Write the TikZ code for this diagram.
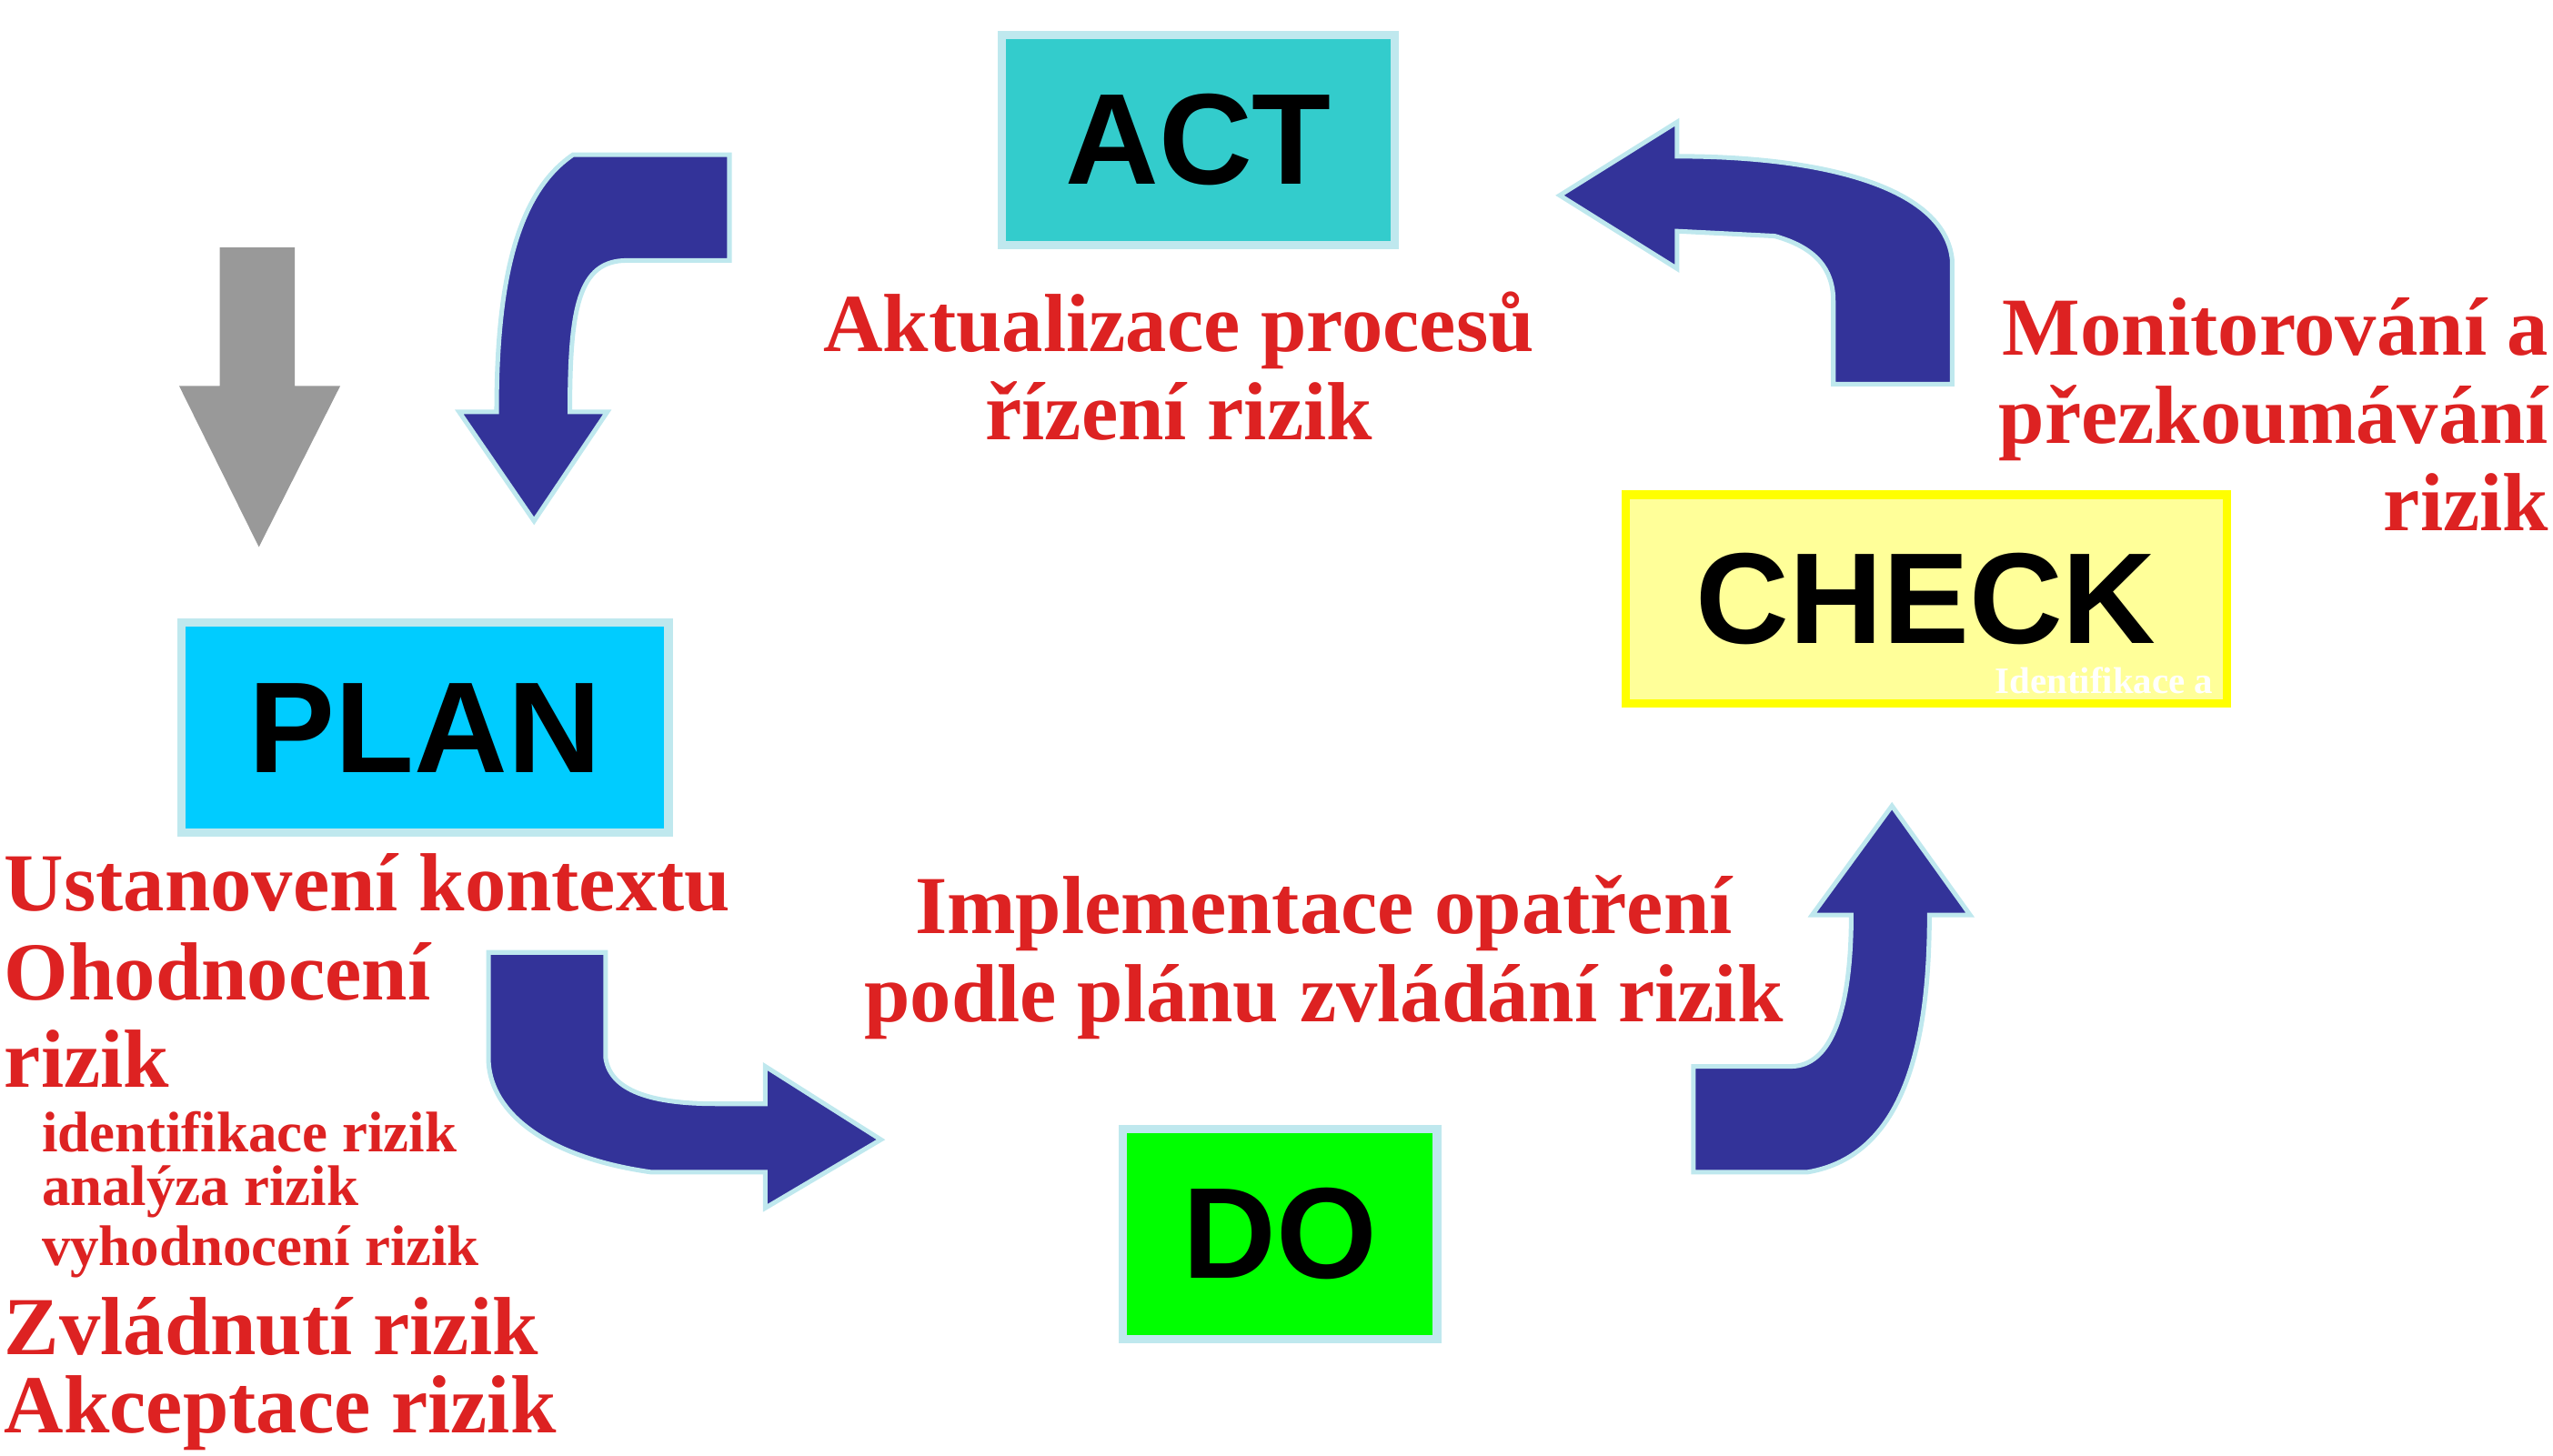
\documentclass[tikz,border=0pt]{standalone}
\usepackage{fontspec}
\setmainfont{Liberation Serif}
\newfontfamily\labelfont{Liberation Sans}
\usetikzlibrary{positioning}
\definecolor{arrowblue}{HTML}{333399}
\definecolor{redtext}{HTML}{DD2222}
\definecolor{boxline}{HTML}{BFE8EE}
\tikzset{phase/.style={draw=boxline, line width=1.5pt, font=\labelfont\bfseries\fontsize{22.6}{22.6}\selectfont, inner sep=0pt},
  note/.style={text=redtext, font=\bfseries\fontsize{14.4}{15.4}\selectfont, inner sep=0pt},
  subnote/.style={text=redtext, font=\bfseries\fontsize{10}{10.5}\selectfont, inner sep=0pt, anchor=west},
  bigarrow/.style={fill=arrowblue, draw=boxline, line width=0.8pt}}

\begin{document}
\begin{tikzpicture}[x=0.01cm,y=-0.01cm]
  \useasboundingbox (0,0) rectangle (1568,894);
  % phases
  \node[phase, fill={rgb,255:red,51;green,204;blue,204}, minimum width=2.41cm, minimum height=1.29cm] (act) at (736,86) {ACT};
  \node[phase, fill={rgb,255:red,0;green,204;blue,255}, minimum width=2.99cm, minimum height=1.29cm] (plan) at (261,447) {PLAN};
  \node[phase, draw={rgb,255:red,255;green,255;blue,0}, fill={rgb,255:red,255;green,255;blue,153}, minimum width=3.69cm, minimum height=1.28cm] (check) at (1183,368) {CHECK};
  \node[phase, fill={rgb,255:red,0;green,255;blue,0}, minimum width=1.93cm, minimum height=1.29cm] (do) at (786,758) {DO};
  \node[text=white, font=\bfseries\fontsize{6.5}{7}\selectfont, inner sep=0pt, anchor=east] (checksub) at (1360,418) {Identifikace a};
  % arrows
  \draw[fill={rgb,255:red,153;green,153;blue,153}, draw=none]
    (135,152) -- (181,152) -- (181,237) -- (209,237) -- (159,336) -- (110,237) -- (135,237) -- cycle;
  \draw[bigarrow] (448,95) -- (352,95) .. controls (315,120) and (305,180) .. (305,253)
    -- (282,253) -- (328,320) -- (373,253) -- (350,253)
    .. controls (350,190) and (355,160) .. (385,160) -- (448,160) -- cycle;
  \draw[bigarrow] (1199,236) -- (1199,160) .. controls (1195,115) and (1120,96) .. (1030,96)
    -- (1030,75) -- (958,120) -- (1030,165) -- (1030,142) -- (1090,145)
    .. controls (1115,152) and (1126,165) .. (1126,185) -- (1126,236) -- cycle;
  \draw[bigarrow] (300,585) -- (372,585) -- (372,650) .. controls (375,670) and (400,678) .. (440,678)
    -- (470,678) -- (470,655) -- (541,700) -- (470,742) -- (470,720) -- (400,720)
    .. controls (330,710) and (300,680) .. (300,650) -- cycle;
  \draw[bigarrow] (1040,720) -- (1110,720) .. controls (1170,710) and (1185,640) .. (1185,562)
    -- (1210,562) -- (1162,495) -- (1113,562) -- (1137,562)
    .. controls (1137,620) and (1125,655) .. (1100,655) -- (1040,655) -- cycle;
  % texts
  \node[note, align=center] (actnote) at (724,225) {Aktualizace procesů\\řízení rizik};
  \node[note, align=right, anchor=north east] (checknote) at (1566,182) {Monitorování a\\přezkoumávání\\rizik};
  \node[note, align=center] (donote) at (813,588) {Implementace opatření\\podle plánu zvládání rizik};
  \node[note, anchor=west] (plan1) at (2,542) {Ustanovení kontextu};
  \node[note, anchor=west] (plan2) at (2,597) {Ohodnocení};
  \node[note, anchor=west] (plan3) at (2,650) {rizik};
  \node[subnote] (plan4) at (25,695) {identifikace rizik};
  \node[subnote] (plan5) at (25,732) {analýza rizik};
  \node[subnote] (plan6) at (25,769) {vyhodnocení rizik};
  \node[note, anchor=west] (plan7) at (2,815) {Zvládnutí rizik};
  \node[note, anchor=west] (plan8) at (2,868) {Akceptace rizik};
\end{tikzpicture}
\end{document}
